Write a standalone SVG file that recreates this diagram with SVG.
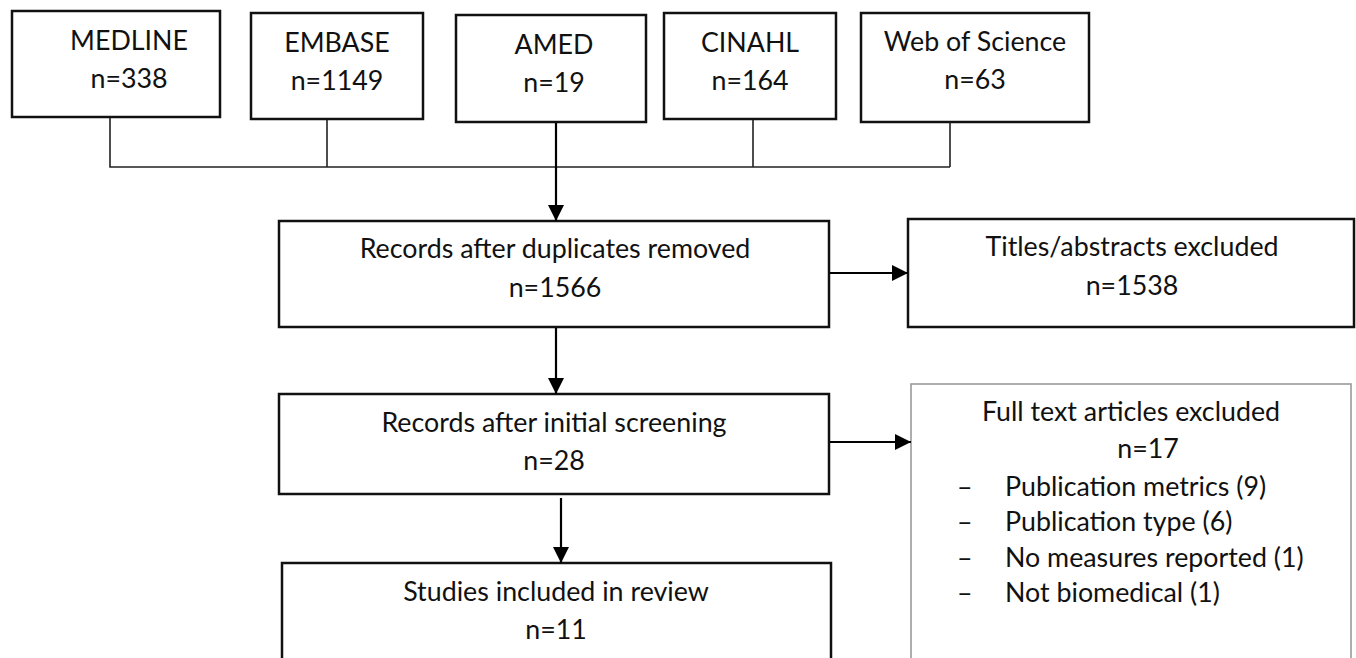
<svg xmlns="http://www.w3.org/2000/svg" width="1356" height="658" viewBox="0 0 1356 658">
<style>
.box{fill:#fff;stroke:#111;stroke-width:2.5}
.gbox{fill:#fff;stroke:#9a9a9a;stroke-width:1.6}
.t{font-family:Lato,"Liberation Sans",sans-serif;font-size:26.8px;fill:#111;text-anchor:middle}
.l{font-family:Lato,"Liberation Sans",sans-serif;font-size:26.8px;fill:#111}
.c{stroke:#222;stroke-width:1.6;fill:none}
.a{stroke:#000;stroke-width:2.2;fill:none;marker-end:url(#ah)}
</style>
<defs>
<marker id="ah" markerUnits="userSpaceOnUse" markerWidth="16" markerHeight="16" refX="16" refY="8" orient="auto">
<path d="M0,0 L16,8 L0,16 Z" fill="#000"/>
</marker>
</defs>
<rect width="1356" height="658" fill="#fff"/>
<g id="medline"><rect class="box" x="12" y="11" width="208" height="106"/><text class="t" x="129" y="50">MEDLINE</text><text class="t" x="129" y="88">n=338</text></g>
<g id="embase"><rect class="box" x="251" y="13" width="172" height="106"/><text class="t" x="337" y="52">EMBASE</text><text class="t" x="337" y="90">n=1149</text></g>
<g id="amed"><rect class="box" x="456" y="15" width="190" height="107"/><text class="t" x="554" y="54">AMED</text><text class="t" x="554" y="92">n=19</text></g>
<g id="cinahl"><rect class="box" x="664" y="13" width="172" height="106"/><text class="t" x="750" y="52">CINAHL</text><text class="t" x="750" y="90">n=164</text></g>
<g id="wos"><rect class="box" x="861" y="13" width="228" height="109"/><text class="t" x="975" y="51">Web of Science</text><text class="t" x="975" y="89">n=63</text></g>
<g id="dup"><rect class="box" x="279" y="221" width="550" height="106"/><text class="t" x="555" y="258">Records after duplicates removed</text><text class="t" x="555" y="297">n=1566</text></g>
<g id="titles"><rect class="box" x="908" y="219" width="446" height="108"/><text class="t" x="1132" y="256">Titles/abstracts excluded</text><text class="t" x="1132" y="295">n=1538</text></g>
<g id="screen"><rect class="box" x="279" y="394" width="550" height="100"/><text class="t" x="554" y="432">Records after initial screening</text><text class="t" x="554" y="470">n=28</text></g>
<g id="studies"><rect class="box" x="282" y="563" width="549" height="110"/><text class="t" x="556" y="601">Studies included in review</text><text class="t" x="556" y="639">n=11</text></g>
<g id="fulltext"><rect class="gbox" x="911" y="384" width="440" height="290"/><text class="t" x="1131" y="421">Full text articles excluded</text><text class="t" x="1148" y="458">n=17</text>
<text class="l" x="957" y="496">–</text><text class="l" x="1005" y="496">Publication metrics (9)</text>
<text class="l" x="957" y="531">–</text><text class="l" x="1005" y="531">Publication type (6)</text>
<text class="l" x="957" y="567">–</text><text class="l" x="1005" y="567">No measures reported (1)</text>
<text class="l" x="957" y="602">–</text><text class="l" x="1005" y="602">Not biomedical (1)</text></g>
<g id="connectors">
<path class="c" d="M110,118 V167 H950 M327,120 V167 M753,120 V167 M950,122 V167"/>
<path class="a" d="M556,123 V221"/>
<path class="a" d="M556,328 V394"/>
<path class="a" d="M561,498 V563"/>
<path class="a" d="M830,273 H908"/>
<path class="a" d="M830,442 H911"/>
</g>
</svg>
